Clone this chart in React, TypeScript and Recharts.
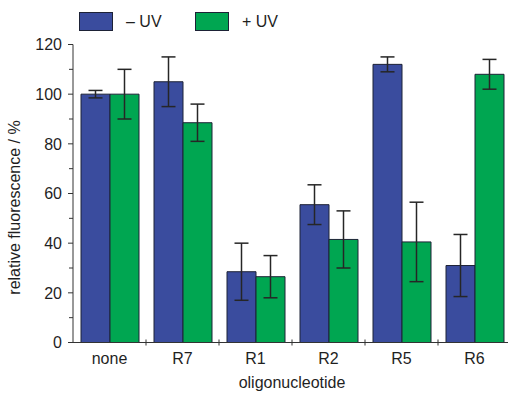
import { Bar, BarChart, ErrorBar, XAxis, YAxis } from 'recharts';

const categories = ['none', 'R7', 'R1', 'R2', 'R5', 'R6'];
const minusUV = [100, 105, 28.5, 55.5, 112, 31];
const minusErr = [1.5, 10, 11.5, 8, 3, 12.5];
const plusUV = [100, 88.5, 26.5, 41.5, 40.5, 108];
const plusErr = [10, 7.5, 8.5, 11.5, 16, 6];
const yTicks = [0, 10, 20, 30, 40, 50, 60, 70, 80, 90, 100, 110, 120];

const BLUE = '#3a4c9e';
const GREEN = '#00a651';
const OUTLINE = '#1d2236';
const INK = '#1f1f1f';
const FONT = '"Liberation Sans", Arial, Helvetica, sans-serif';

const CHART_W = 520;
const CHART_H = 394;
const MARGIN = { top: 44.5, right: 9, left: 0, bottom: 0 };
const Y_AXIS_W = 73;
const BAND = (CHART_W - MARGIN.left - MARGIN.right - Y_AXIS_W) / categories.length;

const rows = categories.map((name, i) => ({
  name,
  minus: minusUV[i],
  minusErr: minusErr[i],
  plus: plusUV[i],
  plusErr: plusErr[i],
}));

function XTick({ x, y, payload, index }: any) {
  return (
    <g>
      <text x={x} y={y + 21} textAnchor="middle" fontSize={16} fill={INK} fontFamily={FONT}>
        {payload.value}
      </text>
      {index < categories.length - 1 && (
        <line x1={x + BAND / 2} x2={x + BAND / 2} y1={y - 3} y2={y + 3} stroke="#333" />
      )}
    </g>
  );
}

function YTick({ x, y, payload }: any) {
  const major = payload.value % 20 === 0;
  return (
    <g>
      <line x1={x - (major ? 5 : 4)} x2={x} y1={y} y2={y} stroke="#333" />
      {major && (
        <text x={x - 11} y={y} dy="0.36em" textAnchor="end" fontSize={16} fill={INK} fontFamily={FONT}>
          {payload.value}
        </text>
      )}
    </g>
  );
}

function YLabel({ viewBox }: any) {
  const cx = viewBox.x + 14;
  const cy = viewBox.y + viewBox.height / 2 + 14;
  return (
    <text
      x={cx}
      y={cy}
      transform={`rotate(-90, ${cx}, ${cy})`}
      textAnchor="middle"
      dominantBaseline="central"
      fontSize={16}
      fill={INK}
      fontFamily={FONT}
    >
      relative fluorescence / %
    </text>
  );
}

function LegendItem({ left, color, text }: { left: number; color: string; text: string }) {
  return (
    <div style={{ position: 'absolute', left, top: 12, display: 'flex', alignItems: 'center' }}>
      <div style={{ width: 32, height: 17, background: color, border: `1px solid ${OUTLINE}` }} />
      <span style={{ marginLeft: 13, fontSize: 16, fontFamily: FONT, color: INK, lineHeight: '18px' }}>{text}</span>
    </div>
  );
}

export default function App() {
  return (
    <div
      style={{
        position: 'fixed',
        left: 0,
        top: 0,
        width: 508,
        height: 394,
        overflow: 'hidden',
        background: '#fff',
      }}
    >
      <BarChart width={CHART_W} height={CHART_H} data={rows} margin={MARGIN} barCategoryGap={8} barGap={0}>
        <XAxis
          dataKey="name"
          height={51.5}
          axisLine={{ stroke: '#333' }}
          tickLine={false}
          tickSize={0}
          tickMargin={0}
          interval={0}
          tick={<XTick />}
          label={{
            value: 'oligonucleotide',
            position: 'insideBottom',
            offset: 6,
            fontSize: 16,
            fill: INK,
            fontFamily: FONT,
          }}
        />
        <YAxis
          width={Y_AXIS_W}
          domain={[0, 120]}
          ticks={yTicks}
          interval={0}
          axisLine={{ stroke: '#333' }}
          tickLine={false}
          tickSize={0}
          tickMargin={0}
          tick={<YTick />}
          label={<YLabel />}
        />
        <Bar dataKey="minus" fill={BLUE} stroke={OUTLINE} strokeWidth={1} isAnimationActive={false}>
          <ErrorBar dataKey="minusErr" width={7} stroke="#262626" strokeWidth={1.5} />
        </Bar>
        <Bar dataKey="plus" fill={GREEN} stroke={OUTLINE} strokeWidth={1} isAnimationActive={false}>
          <ErrorBar dataKey="plusErr" width={7} stroke="#262626" strokeWidth={1.5} />
        </Bar>
      </BarChart>
      <LegendItem left={79} color={BLUE} text="– UV" />
      <LegendItem left={195} color={GREEN} text="+ UV" />
    </div>
  );
}
